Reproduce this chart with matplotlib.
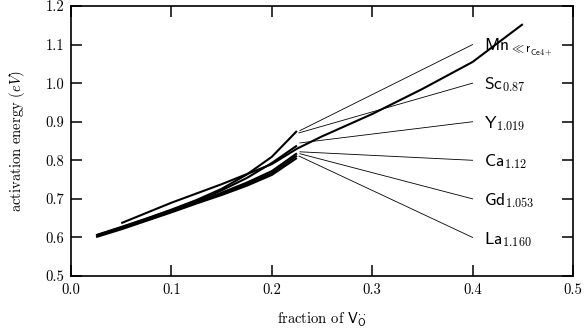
import matplotlib
matplotlib.use("Agg")
import matplotlib.pyplot as plt

plt.rcParams["font.family"] = "cmr10"
plt.rcParams["mathtext.fontset"] = "cm"
plt.rcParams["axes.formatter.use_mathtext"] = True

# short series, fraction of vacancies
x_short = [0.025, 0.05, 0.075, 0.1, 0.125, 0.15, 0.175, 0.2, 0.225]
sc_vals = [0.606, 0.627, 0.649, 0.672, 0.697, 0.726, 0.763, 0.809, 0.876]
y_vals = [0.605, 0.626, 0.648, 0.671, 0.695, 0.722, 0.754, 0.793, 0.838]
ca_vals = [0.604, 0.624, 0.646, 0.669, 0.692, 0.716, 0.742, 0.772, 0.818]
gd_vals = [0.603, 0.623, 0.645, 0.667, 0.690, 0.713, 0.738, 0.767, 0.812]
la_vals = [0.601, 0.621, 0.643, 0.665, 0.688, 0.710, 0.734, 0.762, 0.806]

# Mn runs over a longer range
mn_x = [0.05, 0.1, 0.15, 0.2, 0.225, 0.25, 0.3, 0.35, 0.4, 0.45]
mn_vals = [0.637, 0.690, 0.738, 0.790, 0.830, 0.862, 0.920, 0.985, 1.055, 1.153]

# labels and their leader lines
labels = [r"$\mathsf{Mn}_{\ll \mathsf{r}_{\mathsf{Ce4+}}}$",
          r"$\mathsf{Sc}_{\mathsf{0.87}}$",
          r"$\mathsf{Y}_{\mathsf{1.019}}$",
          r"$\mathsf{Ca}_{\mathsf{1.12}}$",
          r"$\mathsf{Gd}_{\mathsf{1.053}}$",
          r"$\mathsf{La}_{\mathsf{1.160}}$"]
label_y = [1.1, 1.0, 0.9, 0.8, 0.7, 0.6]
leader_x0 = [0.228, 0.227, 0.228, 0.228, 0.228, 0.227]
leader_y0 = [0.877, 0.871, 0.845, 0.822, 0.817, 0.811]
leader_x1 = 0.4

fig = plt.figure(figsize=(5.85, 3.28), dpi=100)
ax = fig.add_axes([0.1214, 0.1585, 0.8581, 0.8232])

for vals in (la_vals, gd_vals, ca_vals, y_vals, sc_vals):
    ax.plot(x_short, vals, color="black", lw=1.5, solid_capstyle="butt")
ax.plot(mn_x, mn_vals, color="black", lw=1.5, solid_capstyle="butt")

for lab, ly, x0, y0 in zip(labels, label_y, leader_x0, leader_y0):
    ax.plot([x0, leader_x1], [y0, ly], color="black", lw=0.6)
    ax.text(leader_x1 + 0.011, ly - 0.016, lab, fontsize=12.5,
            va="baseline", ha="left")

ax.set_xlim(0.0, 0.5)
ax.set_ylim(0.5, 1.2)
ax.set_xticks([0.0, 0.1, 0.2, 0.3, 0.4, 0.5])
ax.set_yticks([0.5, 0.6, 0.7, 0.8, 0.9, 1.0, 1.1, 1.2])
ax.set_xticklabels(["0.0", "0.1", "0.2", "0.3", "0.4", "0.5"])
ax.set_yticklabels(["0.5", "0.6", "0.7", "0.8", "0.9", "1.0", "1.1", "1.2"])
ax.tick_params(direction="in", length=8, width=1.1, top=True, right=True,
               labelsize=10.5, pad=5)
for sp in ax.spines.values():
    sp.set_linewidth(1.2)

ax.set_xlabel(r"fraction of $\mathsf{V}_{\mathsf{O}}^{\cdot\cdot}$", fontsize=10.5,
              labelpad=10)
ax.set_ylabel(r"activation energy $(eV)$", fontsize=10.5, labelpad=13)

fig.savefig("out.png", dpi=100)
